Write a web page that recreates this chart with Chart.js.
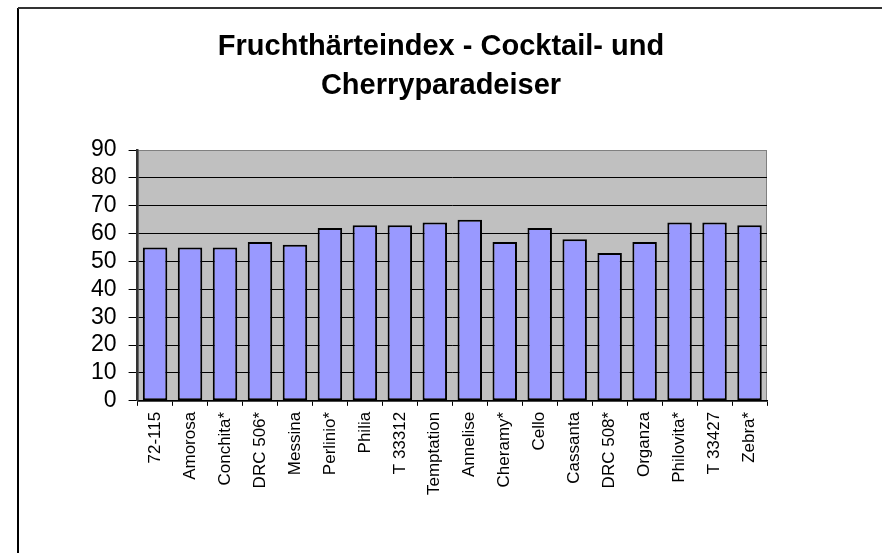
<!DOCTYPE html>
<html>
<head>
<meta charset="utf-8">
<script src="https://cdn.jsdelivr.net/npm/chart.js@4"></script>
<style>
  html, body { margin: 0; padding: 0; background: #fff; }
  #wrap { position: relative; width: 882px; height: 553px; }
</style>
</head>
<body>
<div id="wrap"><canvas id="chart" width="882" height="553"></canvas></div>
<script>
var categories = ['72-115', 'Amorosa', 'Conchita*', 'DRC 506*', 'Messina', 'Perlinio*', 'Philia', 'T 33312', 'Temptation',
  'Annelise', 'Cheramy*', 'Cello', 'Cassanta', 'DRC 508*', 'Organza', 'Philovita*', 'T 33427', 'Zebra*'];
var hardness = [55, 55, 55, 57, 56, 62, 63, 63, 64, 65, 57, 62, 58, 53, 57, 64, 64, 63];
var titleLines = ['Fruchthärteindex - Cocktail- und', 'Cherryparadeiser'];

var FONT = 'Arial, "Liberation Sans", sans-serif';

// gray plot area, outer frame lines and the two-line title centred on the chart frame
var backdrop = {
  id: 'backdrop',
  beforeDraw: function (chart) {
    var c = chart.ctx, a = chart.chartArea;
    c.save();
    c.fillStyle = '#c0c0c0';
    c.fillRect(a.left, a.top, a.right - a.left, a.bottom - a.top);
    c.strokeStyle = '#808080';
    c.lineWidth = 1;
    c.strokeRect(a.left + 0.5, a.top + 0.5, a.right - a.left - 1, a.bottom - a.top);
    c.strokeStyle = '#000';
    c.lineWidth = 2;
    c.beginPath();
    c.moveTo(18, 553);
    c.lineTo(18, 8);
    c.stroke();
    c.strokeStyle = '#333';
    c.beginPath();
    c.moveTo(18, 8);
    c.lineTo(882, 8);
    c.stroke();
    c.fillStyle = '#000';
    c.font = 'bold 29px ' + FONT;
    c.textAlign = 'center';
    c.textBaseline = 'middle';
    titleLines.forEach(function (t, i) { c.fillText(t, 441, 47 + i * 39); });
    c.restore();
  }
};

new Chart(document.getElementById('chart').getContext('2d'), {
  type: 'bar',
  data: {
    labels: categories,
    datasets: [{
      data: hardness,
      backgroundColor: '#9999ff',
      borderColor: '#000',
      borderWidth: 2,
      borderSkipped: false,
      barPercentage: 0.7,
      categoryPercentage: 1
    }]
  },
  options: {
    responsive: false,
    animation: false,
    layout: { padding: { left: 79, right: 115, top: 150, bottom: 52 } },
    plugins: {
      legend: { display: false },
      tooltip: { enabled: false },
      title: { display: false }
    },
    scales: {
      x: {
        grid: { display: true, drawOnChartArea: false, tickLength: 5, color: '#000', offset: true },
        border: { color: '#000', width: 1.5 },
        ticks: { color: '#000', font: { family: FONT, size: 17 }, minRotation: 90, maxRotation: 90, autoSkip: false, padding: 6 }
      },
      y: {
        min: 0,
        max: 90,
        grid: {
          color: function (ctx) { return ctx.tick && ctx.tick.value === 90 ? '#808080' : '#000'; },
          tickLength: 9,
          tickColor: '#000'
        },
        border: { color: '#333', width: 2.5 },
        ticks: { stepSize: 10, autoSkip: false, color: '#000', font: { family: FONT, size: 23 }, padding: 12 }
      }
    }
  },
  plugins: [backdrop]
});
</script>
</body>
</html>
